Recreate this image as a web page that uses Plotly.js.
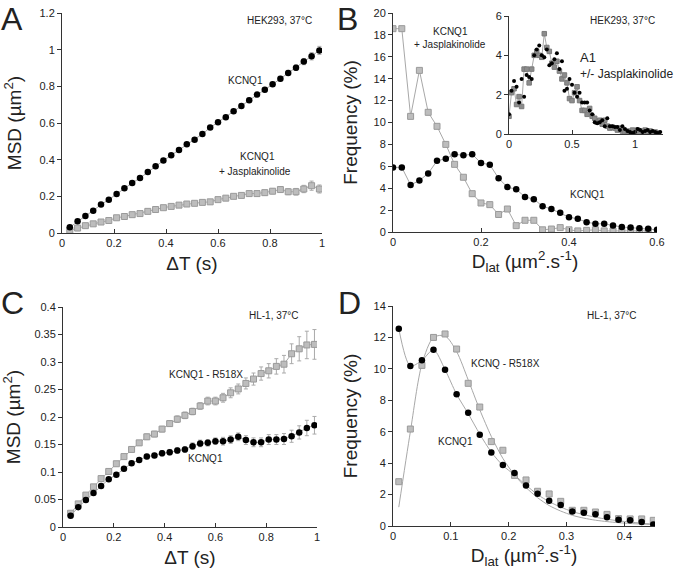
<!DOCTYPE html>
<html><head><meta charset="utf-8">
<script src="https://cdn.plot.ly/plotly-3.0.1.min.js"></script>
<style>html,body{margin:0;padding:0;background:#fff}#chart{width:685px;height:572px}</style>
</head><body><div id="chart"></div>
<script>
// ---------- Panel A (HEK293 MSD) ----------
const A_dt = [0.03,0.06,0.09,0.12,0.15,0.18,0.21,0.24,0.27,0.30,0.33,0.36,0.39,0.42,0.45,0.48,0.51,0.54,0.57,0.60,0.63,0.66,0.69,0.72,0.75,0.78,0.81,0.84,0.87,0.90,0.93,0.96,0.99];
const A_kcnq1 = [0.031,0.064,0.093,0.122,0.155,0.182,0.213,0.244,0.273,0.300,0.333,0.364,0.395,0.424,0.453,0.484,0.509,0.540,0.575,0.604,0.631,0.664,0.693,0.724,0.755,0.782,0.811,0.842,0.873,0.902,0.935,0.964,0.996];
const A_kcnq1_err = [0.003,0.003,0.003,0.004,0.004,0.004,0.005,0.005,0.005,0.005,0.006,0.006,0.006,0.007,0.007,0.007,0.008,0.008,0.008,0.009,0.009,0.010,0.010,0.011,0.011,0.012,0.012,0.013,0.014,0.015,0.017,0.020,0.022];
const A_jasp = [0.015,0.027,0.040,0.050,0.060,0.068,0.083,0.090,0.100,0.106,0.118,0.128,0.138,0.145,0.152,0.158,0.162,0.167,0.170,0.182,0.190,0.200,0.205,0.215,0.215,0.220,0.228,0.237,0.225,0.225,0.240,0.258,0.240];
const A_jasp_err = [0.003,0.003,0.004,0.004,0.004,0.005,0.005,0.005,0.006,0.006,0.006,0.007,0.007,0.007,0.008,0.008,0.008,0.009,0.009,0.010,0.010,0.011,0.011,0.012,0.012,0.013,0.014,0.015,0.016,0.018,0.020,0.025,0.022];

// ---------- Panel B (HEK293 D_lat distribution) ----------
const B_d = [0,0.02,0.04,0.06,0.08,0.10,0.12,0.14,0.16,0.18,0.20,0.22,0.24,0.26,0.28,0.30,0.32,0.34,0.36,0.38,0.40,0.42,0.44,0.46,0.48,0.50,0.52,0.54,0.56,0.58,0.60];
const B_kcnq1 = [5.9,5.9,4.3,4.7,5.35,6.5,6.7,7.1,7.0,7.1,6.3,6.15,4.9,4.1,3.9,3.2,3.0,2.35,2.1,1.75,1.35,1.2,0.9,0.75,0.75,0.6,0.45,0.4,0.35,0.3,0.2];
const B_jasp = [18.57,18.57,10.56,14.76,10.93,9.65,8.0,6.18,5.0,3.5,2.65,2.5,1.6,2.1,0.58,1.07,1.07,0.2,0.27,0.4,0.2,0.1,0.15,0.2,0.1,0.1,0.1,0.1,0.1,0.1];

// ---------- Panel B inset (A1 +/- Jasplakinolide) ----------
const I_d = [0,0.02,0.04,0.06,0.08,0.10,0.12,0.14,0.16,0.18,0.20,0.22,0.24,0.26,0.28,0.30,0.32,0.34,0.36,0.38,0.40,0.42,0.44,0.46,0.48,0.50,0.52,0.54,0.56,0.58,0.60,0.62,0.64,0.66,0.68,0.70,0.72,0.74,0.76,0.78,0.80,0.82,0.84,0.86,0.88,0.90,0.92,0.94,0.96,0.98,1.00,1.02,1.04,1.06,1.08,1.10,1.12,1.14,1.16,1.18,1.20];
const I_minus = [1.0,2.2,2.7,2.4,1.6,2.8,1.9,3.0,2.9,2.8,4.0,4.3,4.5,4.0,3.9,4.3,3.5,3.6,3.8,4.1,3.3,3.7,2.2,2.3,2.8,2.5,2.1,1.9,2.1,1.6,1.6,1.6,1.2,1.0,0.6,0.55,0.6,0.7,0.4,0.8,0.4,0.4,0.35,0.35,0.2,0.4,0.25,0.15,0.1,0.05,0.1,0.25,0.2,0.1,0.15,0.2,0.1,0.15,0.1,0.05,0.1];
const I_plus = [0.9,2.1,2.3,1.5,1.9,1.4,3.3,3.3,2.6,3.3,4.0,4.2,4.0,3.9,5.1,4.4,4.2,3.6,3.4,3.7,3.2,2.8,3.0,2.6,1.8,1.7,2.1,2.4,1.7,1.2,1.2,1.0,1.3,0.9,0.8,0.6,0.7,0.5,0.7,0.4,0.3,0.35,0.3,0.2,0.3,0.15,0.1,0.15,0.1,0.2,0.05,0.2,0.15,0.1,0.2,0.1,0.15,0.05,0.1,0.05];

// ---------- Panel C (HL-1 MSD) ----------
const C_dt = [0.03,0.06,0.09,0.12,0.15,0.18,0.21,0.24,0.27,0.30,0.33,0.36,0.39,0.42,0.45,0.48,0.51,0.54,0.57,0.60,0.63,0.66,0.69,0.72,0.75,0.78,0.81,0.84,0.87,0.90,0.93,0.96,0.99];
const C_kcnq1 = [0.0206,0.036,0.049,0.062,0.0745,0.087,0.095,0.106,0.116,0.122,0.128,0.130,0.134,0.136,0.139,0.141,0.147,0.152,0.153,0.156,0.156,0.159,0.164,0.158,0.154,0.154,0.159,0.159,0.160,0.165,0.172,0.180,0.185];
const C_kcnq1_err = [0.002,0.002,0.002,0.003,0.003,0.003,0.003,0.004,0.004,0.004,0.004,0.004,0.005,0.005,0.005,0.005,0.006,0.006,0.006,0.006,0.007,0.007,0.007,0.008,0.008,0.008,0.009,0.009,0.010,0.011,0.012,0.014,0.016];
const C_r518x = [0.025,0.042,0.058,0.073,0.088,0.101,0.115,0.128,0.141,0.153,0.164,0.169,0.178,0.188,0.196,0.203,0.210,0.220,0.229,0.229,0.235,0.244,0.251,0.261,0.269,0.279,0.284,0.292,0.296,0.315,0.324,0.331,0.332];
const C_r518x_err = [0.002,0.002,0.003,0.003,0.003,0.003,0.004,0.004,0.004,0.004,0.005,0.005,0.005,0.005,0.006,0.006,0.006,0.006,0.007,0.007,0.008,0.009,0.009,0.010,0.011,0.012,0.013,0.014,0.016,0.018,0.022,0.025,0.027];

// ---------- Panel D (HL-1 D_lat distribution) ----------
const D_d = [0.01,0.03,0.05,0.07,0.09,0.11,0.13,0.15,0.17,0.19,0.21,0.23,0.25,0.27,0.29,0.31,0.33,0.35,0.37,0.39,0.41,0.43,0.45];
const D_kcnq1 = [12.56,10.18,10.54,11.22,9.95,8.38,7.21,5.81,4.67,3.88,3.37,2.57,2.06,1.61,1.34,0.93,0.85,0.74,0.55,0.40,0.36,0.25,0.10];
const D_r518x = [2.82,6.17,10.22,12.0,12.22,11.26,9.08,7.57,5.37,4.82,3.22,2.93,2.21,2.04,1.57,1.0,1.0,0.89,0.74,0.47,0.45,0.45,0.36];
const D_kcnq1_fit = [12.56,10.18,10.54,11.22,9.95,8.38,7.15,5.85,4.7,3.85,3.25,2.6,2.0,1.55,1.2,0.92,0.72,0.56,0.43,0.33,0.25,0.18,0.12];
const D_r518x_fit = [1.2,6.0,10.3,12.0,12.1,11.1,9.3,7.4,5.7,4.3,3.25,2.45,1.8,1.3,0.95,0.68,0.5,0.37,0.28,0.21,0.16,0.12,0.09];

const BLACK = '#000000', GREYF = '#bdbdbd', GREYL = '#9a9a9a', LINE = '#a8a8a8';
const FONT = '"Liberation Sans", Arial, sans-serif';

function circ(x, y, xa, ya, size, err, withLine) {
  const t = {x, y, xaxis: xa, yaxis: ya, type: 'scatter', mode: withLine ? 'lines+markers' : 'markers',
    marker: {symbol: 'circle', size: size, color: BLACK, line: {width: 0}},
    line: {color: LINE, width: 1}, showlegend: false, hoverinfo: 'skip'};
  if (err) t.error_y = {type: 'data', array: err, visible: true, color: '#aaaaaa', thickness: 1, width: 2};
  return t;
}
function sq(x, y, xa, ya, size, err, fill, edge) {
  const t = {x, y, xaxis: xa, yaxis: ya, type: 'scatter', mode: 'lines+markers',
    marker: {symbol: 'square', size: size, color: fill || GREYF, line: {width: 1, color: edge || GREYL}},
    line: {color: LINE, width: 1}, showlegend: false, hoverinfo: 'skip'};
  if (err) t.error_y = {type: 'data', array: err, visible: true, color: '#aaaaaa', thickness: 1, width: 2};
  return t;
}
function fit(x, y, xa, ya) {
  return {x, y, xaxis: xa, yaxis: ya, type: 'scatter', mode: 'lines', line: {color: LINE, width: 1, shape: 'spline', smoothing: 0.8},
    showlegend: false, hoverinfo: 'skip'};
}

const traces = [
  sq(A_dt, A_jasp, 'x', 'y', 6, A_jasp_err),
  circ(A_dt, A_kcnq1, 'x', 'y', 6.5, A_kcnq1_err, true),
  sq(B_d.slice(0, B_jasp.length), B_jasp, 'x2', 'y2', 6),
  circ(B_d, B_kcnq1, 'x2', 'y2', 6.5, null, true),
  sq(I_d.slice(0, I_plus.length), I_plus, 'x5', 'y5', 4.5, null, '#8c8c8c', '#7a7a7a'),
  circ(I_d, I_minus, 'x5', 'y5', 4, null, false),
  sq(C_dt, C_r518x, 'x3', 'y3', 6, C_r518x_err),
  circ(C_dt, C_kcnq1, 'x3', 'y3', 6.5, C_kcnq1_err, true),
  fit(D_d, D_r518x_fit, 'x4', 'y4'),
  fit(D_d, D_kcnq1_fit, 'x4', 'y4'),
  {x: D_d, y: D_r518x, xaxis: 'x4', yaxis: 'y4', type: 'scatter', mode: 'markers',
   marker: {symbol: 'square', size: 6, color: GREYF, line: {width: 1, color: GREYL}}, showlegend: false, hoverinfo: 'skip'},
  circ(D_d, D_kcnq1, 'x4', 'y4', 6.5, null, false)
];

const W = 685, H = 572;
const px = v => v / W, py = v => 1 - v / H;

function xax(dom, range, dtick, title, anchor, standoff) {
  return {domain: [px(dom[0]), px(dom[1])], range: range, dtick: dtick, tick0: 0, anchor: anchor,
    showline: true, linecolor: '#333', linewidth: 1, ticks: 'inside', ticklen: 4, tickcolor: '#333',
    showgrid: false, zeroline: false, tickfont: {family: FONT, size: 11, color: '#222'},
    title: title ? {text: title, font: {family: FONT, size: 19, color: '#222'}, standoff: standoff} : undefined,
    automargin: false, fixedrange: true};
}
function yax(dom, range, dtick, title, anchor, standoff) {
  return {domain: [py(dom[1]), py(dom[0])], range: range, dtick: dtick, tick0: 0, anchor: anchor,
    showline: true, linecolor: '#333', linewidth: 1, ticks: 'outside', ticklen: 4, tickcolor: '#333',
    showgrid: false, zeroline: false, tickfont: {family: FONT, size: 11, color: '#222'},
    title: title ? {text: title, font: {family: FONT, size: 19, color: '#222'}, standoff: standoff} : undefined,
    automargin: false, fixedrange: true};
}

function ann(text, x, y, size, xanchor) {
  return {text: text, x: px(x), y: py(y), xref: 'paper', yref: 'paper', showarrow: false,
    xanchor: xanchor || 'center', yanchor: 'middle', font: {family: FONT, size: size || 10, color: '#222'}};
}

const layout = {
  width: W, height: H, margin: {l: 0, r: 0, t: 0, b: 0}, paper_bgcolor: '#fff', plot_bgcolor: 'rgba(0,0,0,0)',
  showlegend: false,
  xaxis: xax([62, 322], [0, 1], 0.2, 'ΔT (s)', 'y', 8),
  yaxis: yax([13, 233], [0, 1.2], 0.2, 'MSD (µm<sup>2</sup>)', 'x', 12),
  xaxis2: xax([393, 657], [0, 0.6], 0.2, 'D<sub>lat</sub> (µm<sup>2</sup>.s<sup>-1</sup>)', 'y2', 6),
  yaxis2: yax([13, 232], [0, 20], 2, 'Frequency (%)', 'x2', 10),
  xaxis3: xax([63, 317], [0, 1], 0.2, 'ΔT (s)', 'y3', 8),
  yaxis3: yax([307, 527], [0, 0.4], 0.05, 'MSD (µm<sup>2</sup>)', 'x3', 10),
  xaxis4: xax([393, 655], [0, 0.453], 0.1, 'D<sub>lat</sub> (µm<sup>2</sup>.s<sup>-1</sup>)', 'y4', 6),
  yaxis4: yax([306, 526], [0, 14], 2, 'Frequency (%)', 'x4', 10),
  xaxis5: xax([509, 663], [0, 1.222], 0.5, null, 'y5'),
  yaxis5: yax([16, 134], [0, 6], 2, null, 'x5'),
  annotations: [
    ann('A', 12, 19, 32), ann('B', 348, 19, 32), ann('C', 12, 303, 32), ann('D', 349, 303, 32),
    ann('HEK293, 37°C', 279, 21, 10), ann('KCNQ1', 245, 80, 10),
    ann('KCNQ1', 257, 156, 10), ann('+ Jasplakinolide', 255, 171, 10),
    ann('KCNQ1', 450, 32, 10), ann('+ Jasplakinolide', 450, 45, 10),
    ann('HEK293, 37°C', 622, 21, 10), ann('A1', 578, 57, 13, 'left'), ann('+/- Jasplakinolide', 578, 74, 12, 'left'),
    ann('KCNQ1', 587, 195, 10),
    ann('HL-1, 37°C', 274, 316, 10), ann('KCNQ1 - R518X', 206, 374, 10), ann('KCNQ1', 205, 459, 10),
    ann('HL-1, 37°C', 612, 315, 10), ann('KCNQ - R518X', 505, 363, 10), ann('KCNQ1', 455, 441, 10)
  ]
};
Plotly.newPlot('chart', traces, layout, {staticPlot: true, displayModeBar: false});
</script></body></html>
